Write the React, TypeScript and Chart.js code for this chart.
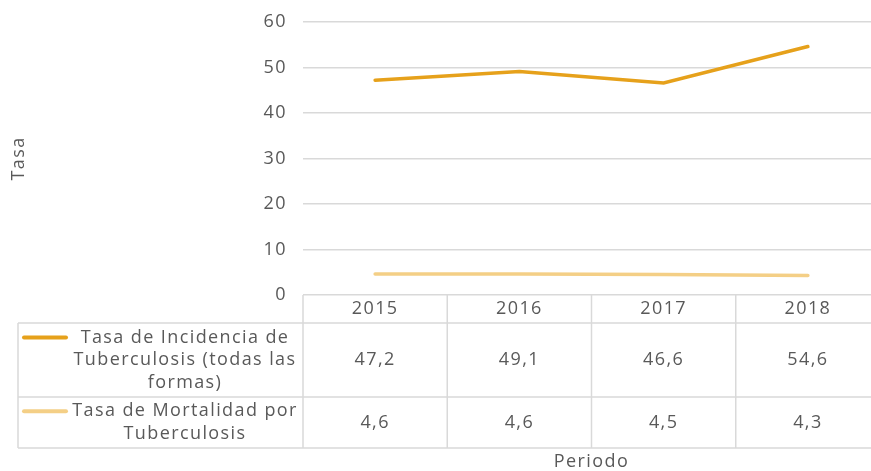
import React, { useEffect, useRef } from "react";
import { Chart, registerables } from "chart.js";
Chart.register(...registerables);

const periods = ["2015", "2016", "2017", "2018"];
const incidence = [47.2, 49.1, 46.6, 54.6];
const mortality = [4.6, 4.6, 4.5, 4.3];
const seriesNames = ["Tasa de Incidencia de Tuberculosis (todas las formas)", "Tasa de Mortalidad por Tuberculosis"];
const legendLines = [
  ["Tasa de Incidencia de", "Tuberculosis (todas las", "formas)"],
  ["Tasa de Mortalidad por", "Tuberculosis"],
];
const yTitle = "Tasa";
const xTitle = "Periodo";
const yMin = 0;
const yMax = 60;
const yStep = 10;

const COL_INC = "#E6A11B";
const COL_MORT = "#F4CF86";
const TEXT = "#595959";
const GRID = "#d9d9d9";
const FONT = "'Open Sans', sans-serif";
const FS = 18;
const LS = "1.4px";

const fmt = (v: number) => v.toFixed(1).replace(".", ",");

const spacingPlugin = {
  id: "spacing",
  beforeDraw(chart: any) {
    (chart.ctx as any).letterSpacing = LS;
  },
};

const tablePlugin = {
  id: "dataTable",
  afterDraw(chart: any) {
    const ctx = chart.ctx;
    const ca = chart.chartArea;
    const xs = chart.scales.x;
    const n = periods.length;
    const step = xs.getPixelForValue(1) - xs.getPixelForValue(0);
    const bounds: number[] = [];
    for (let i = 0; i <= n; i++) bounds.push(xs.getPixelForValue(0) - step / 2 + i * step);
    const top = ca.bottom;
    const hBottom = top + 28;
    const r1Bottom = hBottom + 74;
    const r2Bottom = r1Bottom + 51;
    const left = 18;
    ctx.save();
    (ctx as any).letterSpacing = LS;
    ctx.strokeStyle = GRID;
    ctx.lineWidth = 1.5;
    ctx.beginPath();
    for (const b of bounds) {
      ctx.moveTo(b, top);
      ctx.lineTo(b, r2Bottom);
    }
    for (const y of [hBottom, r1Bottom, r2Bottom]) {
      ctx.moveTo(left, y);
      ctx.lineTo(bounds[n], y);
    }
    ctx.moveTo(left, hBottom);
    ctx.lineTo(left, r2Bottom);
    ctx.stroke();

    ctx.fillStyle = TEXT;
    ctx.font = `${FS}px ${FONT}`;
    ctx.textAlign = "center";
    ctx.textBaseline = "middle";
    const rows = [incidence, mortality];
    const rowMid = [(hBottom + r1Bottom) / 2, (r1Bottom + r2Bottom) / 2];
    for (let i = 0; i < n; i++) {
      const cx = (bounds[i] + bounds[i + 1]) / 2;
      ctx.fillText(periods[i], cx, (top + hBottom) / 2);
      rows.forEach((r, k) => ctx.fillText(fmt(r[i]), cx, rowMid[k]));
    }
    const colors = [COL_INC, COL_MORT];
    const lh = 22.5;
    legendLines.forEach((lines, k) => {
      const firstY = rowMid[k] - ((lines.length - 1) * lh) / 2;
      ctx.strokeStyle = colors[k];
      ctx.lineWidth = 4;
      ctx.lineCap = "round";
      ctx.beginPath();
      ctx.moveTo(24, firstY);
      ctx.lineTo(66, firstY);
      ctx.stroke();
      ctx.fillStyle = TEXT;
      lines.forEach((t, j) => ctx.fillText(t, 185, firstY + j * lh));
    });
    ctx.fillText(xTitle, (bounds[0] + bounds[n]) / 2, r2Bottom + 14);
    ctx.restore();
  },
};

export default function App() {
  const ref = useRef<HTMLCanvasElement>(null);
  useEffect(() => {
    if (!ref.current) return;
    const chart = new Chart(ref.current, {
      type: "line",
      data: {
        labels: periods,
        datasets: [
          { label: seriesNames[0], data: incidence, borderColor: COL_INC, backgroundColor: COL_INC, borderWidth: 3.5, pointRadius: 0, tension: 0, borderCapStyle: "round" },
          { label: seriesNames[1], data: mortality, borderColor: COL_MORT, backgroundColor: COL_MORT, borderWidth: 3.5, pointRadius: 0, tension: 0, borderCapStyle: "round" },
        ],
      },
      options: {
        responsive: false,
        animation: false,
        layout: { padding: { top: 22, bottom: 176, left: 0, right: 0 } },
        plugins: { legend: { display: false }, tooltip: { enabled: false } },
        scales: {
          x: { display: false, offset: true },
          y: {
            min: yMin,
            max: yMax,
            border: { display: false },
            grid: { color: GRID, lineWidth: 1.5, drawTicks: false },
            ticks: { stepSize: yStep, padding: 16, color: TEXT, font: { family: FONT, size: FS } },
            title: { display: true, text: yTitle, color: TEXT, font: { family: FONT, size: FS }, padding: { top: 8, bottom: 0 } },
            afterFit: (s: any) => { s.width = 303; s.paddingTop = 0; s.paddingBottom = 0; },
          },
        },
      },
      plugins: [spacingPlugin, tablePlugin],
    } as any);
    return () => chart.destroy();
  }, []);
  return (
    <div style={{ position: "fixed", left: 0, top: 0, width: 871, height: 471, overflow: "hidden", background: "#fff" }}>
      <canvas ref={ref} width={880} height={471} />
    </div>
  );
}
